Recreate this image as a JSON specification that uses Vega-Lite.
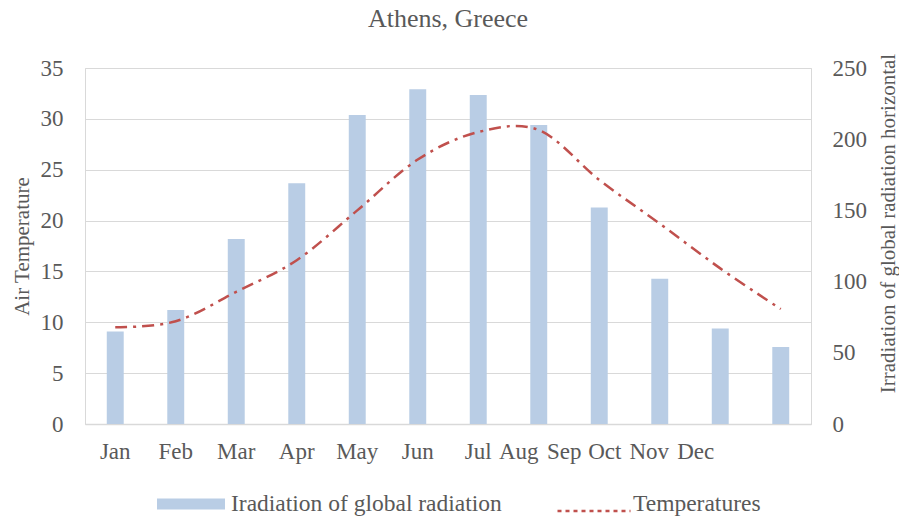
{
  "$schema": "https://vega.github.io/schema/vega-lite/v6.json",
  "width": 726,
  "height": 356,
  "autosize": "none",
  "padding": {"left": 85, "top": 68, "right": 88, "bottom": 94},
  "background": "white",
  "title": {
    "text": "Athens, Greece",
    "font": "Liberation Serif",
    "fontSize": 26,
    "fontWeight": "normal",
    "color": "#595959",
    "anchor": "middle",
    "offset": 21
  },
  "config": {
    "view": {"stroke": "#D9D9D9", "strokeWidth": 1},
    "font": "Liberation Serif",
    "axis": {
      "labelFont": "Liberation Serif",
      "labelFontSize": 23,
      "labelColor": "#595959",
      "titleFont": "Liberation Serif",
      "titleFontSize": 21,
      "titleFontWeight": "normal",
      "titleColor": "#595959",
      "ticks": false,
      "gridColor": "#D9D9D9",
      "gridWidth": 1
    },
    "legend": {
      "labelFont": "Liberation Serif",
      "labelFontSize": 23.5,
      "labelColor": "#595959",
      "labelLimit": 500,
      "padding": 0
    }
  },
  "data": {
    "values": [
      {"month": "Jan", "radiation": 65, "temp": 9.5},
      {"month": "Feb", "radiation": 80, "temp": 10.1},
      {"month": "Mar", "radiation": 130, "temp": 13.0},
      {"month": "Apr", "radiation": 169, "temp": 16.1},
      {"month": "May", "radiation": 217, "temp": 21.0},
      {"month": "Jun", "radiation": 235, "temp": 26.0},
      {"month": "Jul", "radiation": 231, "temp": 28.7},
      {"month": "Aug", "radiation": 210, "temp": 28.9},
      {"month": "Sep", "radiation": 152, "temp": 24.0},
      {"month": "Oct", "radiation": 102, "temp": 19.7},
      {"month": "Nov", "radiation": 67, "temp": 15.3},
      {"month": "Dec", "radiation": 54, "temp": 11.3}
    ]
  },
  "encoding": {
    "x": {
      "field": "month",
      "type": "ordinal",
      "sort": null,
      "scale": {"paddingInner": 0.72, "paddingOuter": 0.36},
      "axis": {
        "title": null,
        "labelAngle": 0,
        "domain": true,
        "domainColor": "#D9D9D9",
        "domainWidth": 1.5,
        "labelPadding": 16,
        "labelOverlap": false,
        "labelBound": false,
        "grid": false,
        "labelOffset": {
          "condition": [
            {"test": "datum.value === 'Aug'", "value": -20},
            {"test": "datum.value === 'Sep'", "value": -35},
            {"test": "datum.value === 'Oct'", "value": -55},
            {"test": "datum.value === 'Nov'", "value": -71},
            {"test": "datum.value === 'Dec'", "value": -85}
          ],
          "value": 0
        }
      }
    }
  },
  "layer": [
    {
      "mark": {"type": "bar"},
      "encoding": {
        "y": {
          "field": "radiation",
          "type": "quantitative",
          "scale": {"domain": [0, 250]},
          "axis": {
            "orient": "right",
            "values": [0, 50, 100, 150, 200, 250],
            "grid": false,
            "domain": false,
            "labelPadding": 21,
            "title": "Irradiation of global radiation horizontal",
            "titleAngle": -90,
            "titleX": 77,
            "titleY": 155,
            "titleAlign": "center",
            "titleBaseline": "middle"
          }
        },
        "color": {
          "datum": "Iradiation of global radiation",
          "type": "nominal",
          "scale": {"range": ["#B9CDE5"]},
          "legend": {
            "orient": "none",
            "legendX": 72,
            "legendY": 402,
            "title": null,
            "symbolType": "M-1,-0.162L1,-0.162L1,0.162L-1,0.162Z",
            "symbolSize": 4624,
            "symbolStrokeWidth": 0,
            "labelOffset": 6
          }
        }
      }
    },
    {
      "mark": {"type": "line", "interpolate": "cardinal", "strokeDash": [12, 6, 3, 6], "strokeWidth": 2.5, "strokeCap": "butt"},
      "encoding": {
        "y": {
          "field": "temp",
          "type": "quantitative",
          "scale": {"domain": [0, 35]},
          "axis": {
            "orient": "left",
            "values": [0, 5, 10, 15, 20, 25, 30, 35],
            "grid": true,
            "domain": false,
            "zindex": 0,
            "labelPadding": 22,
            "title": "Air Temperature",
            "titleAngle": -90,
            "titleX": -63,
            "titleY": 178,
            "titleAlign": "center",
            "titleBaseline": "middle"
          }
        },
        "stroke": {
          "datum": "Temperatures",
          "type": "nominal",
          "scale": {"range": ["#C0504D"]},
          "legend": {
            "orient": "none",
            "legendX": 471,
            "legendY": 405,
            "title": null,
            "symbolType": "stroke",
            "symbolSize": 5329,
            "symbolStrokeWidth": 2.5,
            "symbolDash": [4, 4],
            "labelOffset": 1,
            "labelBaseline": "alphabetic"
          }
        }
      }
    }
  ],
  "resolve": {"scale": {"y": "independent"}}
}
